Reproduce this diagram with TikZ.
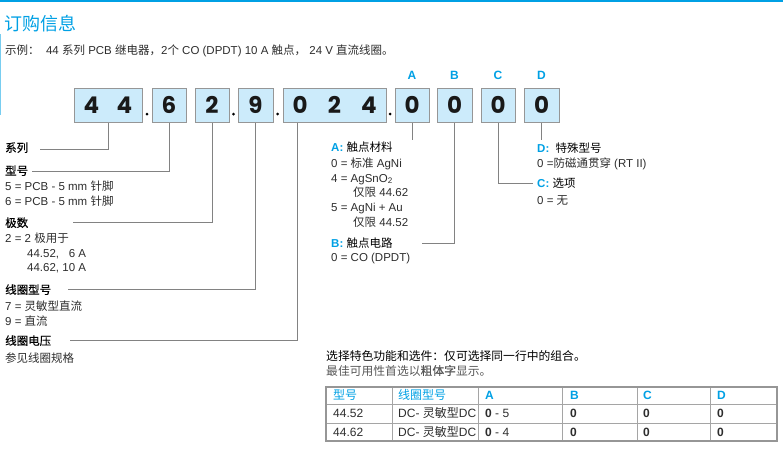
\documentclass[tikz,border=0pt]{standalone}
\usepackage{fontspec}
\setmainfont{Liberation Sans}
\newfontfamily\latinfam{Liberation Sans}
\newfontfamily\cjkfam{Noto Sans CJK SC}[BoldFont={Noto Sans CJK SC}, BoldFeatures={FakeBold=0.45}]
\newfontfamily\popfam{Poppins}
\newcommand\digsel{\popfam\bfseries}
\XeTeXinterchartokenstate=1
\newXeTeXintercharclass\CJKcls
\count255="3000
\loop \XeTeXcharclass\count255=\CJKcls \ifnum\count255<"303F \advance\count255 1 \repeat
\count255="4E00
\loop \XeTeXcharclass\count255=\CJKcls \ifnum\count255<"9FFF \advance\count255 1 \repeat
\count255="FF00
\loop \XeTeXcharclass\count255=\CJKcls \ifnum\count255<"FFEF \advance\count255 1 \repeat
\XeTeXinterchartoks 0 \CJKcls = {\cjkfam}
\XeTeXinterchartoks 4095 \CJKcls = {\cjkfam}
\XeTeXinterchartoks \CJKcls 0 = {\latinfam}
\XeTeXinterchartoks \CJKcls 4095 = {\latinfam}
\definecolor{cyanT}{RGB}{0,160,228}
\definecolor{cyanL}{RGB}{120,205,240}
\definecolor{boxfill}{RGB}{204,235,251}
\definecolor{boxdraw}{RGB}{150,150,150}
\definecolor{linegray}{RGB}{130,130,130}
\definecolor{txt}{RGB}{45,45,45}
\definecolor{tabline}{RGB}{165,165,165}
\tikzset{
  digbox/.style={draw=boxdraw, line width=1pt, fill=boxfill, minimum height=34pt, inner sep=0pt,
    font=\digsel\fontsize{23}{23}\selectfont, text=black!90},
  dotc/.style={circle, fill=black, inner sep=0pt, minimum size=3pt},
  lett/.style={font=\bfseries\fontsize{12}{12}\selectfont, text=cyanT},
  conn/.style={draw=linegray, line width=0.8pt},
  lab/.style={anchor=west, inner sep=0pt, text height=10pt, text depth=2pt,
    font=\fontsize{11.5}{13}\selectfont, text=txt},
  labh/.style={lab, font=\bfseries\fontsize{11.5}{13}\selectfont, text=black},
  cell/.style={anchor=west, inner sep=0pt, text height=10pt, text depth=2pt,
    font=\fontsize{12}{13}\selectfont, text=txt},
  hcell/.style={cell, text=cyanT, font=\bfseries\fontsize{12}{13}\selectfont},
}
\begin{document}
\begin{tikzpicture}[x=1pt,y=-1pt]
\useasboundingbox (0,0) rectangle (783,464);
% code boxes (no font switching here)
\XeTeXinterchartokenstate=0
\node[digbox, minimum width=68pt] (b44) at (108,105) {\makebox[33pt]{4}\makebox[33pt]{4}};
\node[digbox, minimum width=34pt] (b6) at (169,105) {6};
\node[digbox, minimum width=34pt] (b2) at (212,105) {2};
\node[digbox, minimum width=35pt] (b9) at (255.5,105) {9};
\node[digbox, minimum width=103pt] (b024) at (334.5,105) {\makebox[34.3pt]{0}\makebox[34.3pt]{2}\makebox[34.3pt]{4}};
\node[digbox, minimum width=34pt] (bA) at (412,105) {0};
\node[digbox, minimum width=35pt] (bB) at (454.5,105) {0};
\node[digbox, minimum width=34pt] (bC) at (498,105) {0};
\node[digbox, minimum width=35pt] (bD) at (541.5,105) {0};
\XeTeXinterchartokenstate=1
% header
\draw[cyanT, line width=1.6pt] (0,0.8) -- (783,0.8);
\draw[cyanL, line width=1.2pt] (0.6,34) -- (0.6,115);
\node[anchor=west, inner sep=0pt, text=cyanT, font=\fontsize{18}{20}\selectfont] (title) at (4,24) {订购信息};
\node[lab] (sub) at (5,50) {示例：\ \ 44 系列 PCB 继电器，2个 CO (DPDT) 10 A 触点，\ 24 V 直流线圈。};
\node[dotc] (d1) at (147,114) {};
\node[dotc] (d2) at (233.5,114) {};
\node[dotc] (d3) at (277.5,114) {};
\node[dotc] (d4) at (390,114) {};
\node[lett] (lA) at (412,75) {A};
\node[lett] (lB) at (454.5,75) {B};
\node[lett] (lC) at (498,75) {C};
\node[lett] (lD) at (541.5,75) {D};
% left labels
\node[labh] (t1) at (5,148) {系列};
\node[labh] (t2) at (5,171) {型号};
\node[lab] (t2a) at (5,186) {5 = PCB - 5 mm 针脚};
\node[lab] (t2b) at (5,201) {6 = PCB - 5 mm 针脚};
\node[labh] (t3) at (5,223) {极数};
\node[lab] (t3a) at (5,238) {2 = 2 极用于};
\node[lab] (t3b) at (27,253) {44.52,\ \ \ 6 A};
\node[lab] (t3c) at (27,267) {44.62, 10 A};
\node[labh] (t4) at (5,290) {线圈型号};
\node[lab] (t4a) at (5,306) {7 = 灵敏型直流};
\node[lab] (t4b) at (5,321) {9 = 直流};
\node[labh] (t5) at (5,341) {线圈电压};
\node[lab] (t5a) at (5,358) {参见线圈规格};
\coordinate (e1) at (40,149);
\coordinate (e2) at (32,171);
\coordinate (e3) at (73,222);
\coordinate (e4) at (68,289);
\coordinate (e5) at (70,340);
\draw[conn] (b44.south) |- (e1);
\draw[conn] (b6.south) |- (e2);
\draw[conn] (b2.south) |- (e3);
\draw[conn] (b9.south) |- (e4);
\draw[conn] (b024.south west) ++(15,0) |- (e5);
% right labels
\node[lab, text=black] (rA) at (331,147) {\textbf{\textcolor{cyanT}{A:}} 触点材料};
\node[lab] (rA1) at (331,163) {0 = 标准 AgNi};
\node[lab] (rA2) at (331,178) {4 = AgSnO\textsubscript{2}};
\node[lab] (rA3) at (353,192) {仅限 44.62};
\node[lab] (rA4) at (331,207) {5 = AgNi + Au};
\node[lab] (rA5) at (353,222) {仅限 44.52};
\node[lab, text=black] (rB) at (331,243) {\textbf{\textcolor{cyanT}{B:}} 触点电路};
\node[lab] (rB1) at (331,257) {0 = CO (DPDT)};
\node[lab, text=black] (rD) at (537,148) {\textbf{\textcolor{cyanT}{D:}}\ \ 特殊型号};
\node[lab] (rD1) at (537,163) {0 =防磁通贯穿 (RT II)};
\node[lab, text=black] (rC) at (537,183) {\textbf{\textcolor{cyanT}{C:}} 选项};
\node[lab] (rC1) at (537,200) {0 = 无};
\coordinate (eA) at (412,140);
\coordinate (eD) at (541.5,140);
\coordinate (eB) at (422,243);
\coordinate (eC) at (533,183);
\draw[conn] (bA.south) -- (eA);
\draw[conn] (bD.south) -- (eD);
\draw[conn] (bB.south) |- (eB);
\draw[conn] (bC.south) |- (eC);
% bottom notes
\node[lab, text=black, font=\fontsize{11.8}{13}\selectfont] (n1) at (326,356) {选择特色功能和选件：仅可选择同一行中的组合。};
\node[lab, text=txt!80, font=\fontsize{11.8}{13}\selectfont] (n2) at (326,371) {最佳可用性首选以\textbf{粗体字}显示。};
% table
\draw[tabline, line width=0.9pt] (326,404) -- (777,404) (326,423) -- (777,423);
\foreach \cx in {392,478,562,637,710} \draw[tabline, line width=0.9pt] (\cx,387) -- (\cx,441);
\draw[boxdraw, line width=2pt] (326,387) rectangle (777,441);
\node[cell, text=cyanT] (h1) at (333,395.5) {型号};
\node[cell, text=cyanT] (h2) at (398,395.5) {线圈型号};
\node[hcell] (h3) at (485,395.5) {A};
\node[hcell] (h4) at (570,395.5) {B};
\node[hcell] (h5) at (643,395.5) {C};
\node[hcell] (h6) at (717,395.5) {D};
\node[cell] (r11) at (333,413.5) {44.52};
\node[cell] (r12) at (398,413.5) {DC- 灵敏型DC};
\node[cell] (r13) at (485,413.5) {\textbf{0} - 5};
\node[cell] (r14) at (570,413.5) {\textbf{0}};
\node[cell] (r15) at (643,413.5) {\textbf{0}};
\node[cell] (r16) at (717,413.5) {\textbf{0}};
\node[cell] (r21) at (333,432) {44.62};
\node[cell] (r22) at (398,432) {DC- 灵敏型DC};
\node[cell] (r23) at (485,432) {\textbf{0} - 4};
\node[cell] (r24) at (570,432) {\textbf{0}};
\node[cell] (r25) at (643,432) {\textbf{0}};
\node[cell] (r26) at (717,432) {\textbf{0}};
\end{tikzpicture}
\end{document}
